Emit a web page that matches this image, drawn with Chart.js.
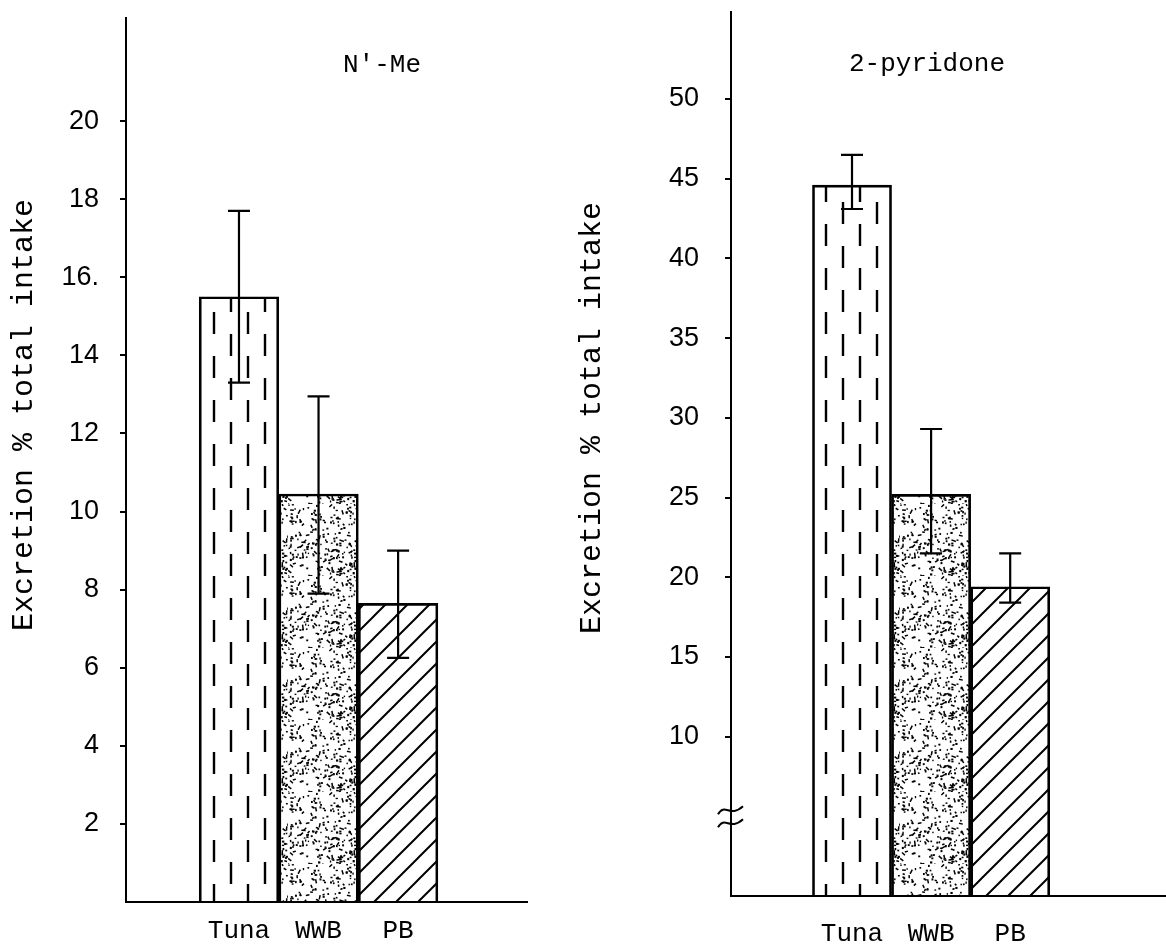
<!DOCTYPE html>
<html>
<head>
<meta charset="utf-8">
<title>Excretion % total intake</title>
<script src="https://cdn.jsdelivr.net/npm/chart.js@4.4.1/dist/chart.umd.min.js"></script>
<style>
  html, body { margin: 0; padding: 0; background: #fff; }
  #wrap { position: relative; width: 1166px; height: 946px; overflow: hidden; }
  canvas { position: absolute; top: 0; }
  #left { left: 0; }
  #right { left: 540px; }
</style>
</head>
<body>
<div id="wrap">
  <canvas id="left" width="540" height="946"></canvas>
  <canvas id="right" width="626" height="946"></canvas>
</div>
<script>
const foods = ['Tuna', 'WWB', 'PB'];
const yTitle = 'Excretion % total intake';

// N'-Me panel
const nmeValues = [15.5, 10.45, 7.65];
const nmeErrHigh = [17.7, 12.95, 9.0];
const nmeErrLow = [13.3, 7.9, 6.25];
const nmeTicks = [2, 4, 6, 8, 10, 12, 14, 16, 18, 20];
const nmeTickLabels = ['2', '4', '6', '8', '10', '12', '14', '16.', '18', '20'];

// 2-pyridone panel
const pyrValues = [44.6, 25.2, 19.4];
const pyrErrHigh = [46.5, 29.3, 21.5];
const pyrErrLow = [43.1, 21.5, 18.4];
const pyrTicks = [10, 15, 20, 25, 30, 35, 40, 45, 50];
const pyrTickLabels = ['10', '15', '20', '25', '30', '35', '40', '45', '50'];

Chart.defaults.color = '#000';
Chart.defaults.font.family = '"Liberation Mono", monospace';

// motivos de preenchimento das barras
function dashPattern(ctx, shift) {
  const c = document.createElement('canvas');
  c.width = 34; c.height = 44;
  const g = c.getContext('2d');
  g.strokeStyle = '#000';
  g.lineWidth = 2.4;
  g.beginPath();
  g.moveTo(shift, 4); g.lineTo(shift, 26);
  g.moveTo(shift + 17, 26); g.lineTo(shift + 17, 44);
  g.moveTo(shift + 17, 0); g.lineTo(shift + 17, 4);
  g.stroke();
  return ctx.createPattern(c, 'repeat');
}

function stipplePattern(ctx) {
  const c = document.createElement('canvas');
  c.width = 72; c.height = 72;
  const g = c.getContext('2d');
  g.fillStyle = '#000';
  g.strokeStyle = '#000';
  g.lineWidth = 1.5;
  let s = 7;
  const rnd = () => (s = (s * 16807) % 2147483647) / 2147483647;
  for (let i = 0; i < 240; i++) {
    const x = rnd() * 72, y = rnd() * 72;
    if (rnd() < 0.3) {
      const a = rnd() * Math.PI, l = 2 + rnd() * 3;
      g.beginPath();
      g.moveTo(x, y);
      g.lineTo(x + Math.cos(a) * l, y + Math.sin(a) * l);
      g.stroke();
    } else {
      g.fillRect(x, y, 1.3 + rnd(), 1.3 + rnd());
    }
  }
  return ctx.createPattern(c, 'repeat');
}

function hatchPattern(ctx) {
  const c = document.createElement('canvas');
  c.width = 22; c.height = 22;
  const g = c.getContext('2d');
  g.strokeStyle = '#000';
  g.lineWidth = 2;
  g.beginPath();
  g.moveTo(-2, 24); g.lineTo(24, -2);
  g.moveTo(-13, 13); g.lineTo(13, -13);
  g.moveTo(9, 35); g.lineTo(35, 9);
  g.stroke();
  return ctx.createPattern(c, 'repeat');
}

// barras de erro
const errorBars = {
  id: 'errorBars',
  afterDatasetsDraw(chart, args, opts) {
    const { ctx, scales: { x, y } } = chart;
    ctx.save();
    ctx.strokeStyle = '#000';
    ctx.lineWidth = 2.2;
    opts.high.forEach((hi, i) => {
      const px = x.getPixelForValue(i + 1);
      const top = y.getPixelForValue(hi);
      const bot = y.getPixelForValue(opts.low[i]);
      ctx.beginPath();
      ctx.moveTo(px, top); ctx.lineTo(px, bot);
      ctx.moveTo(px - 11, top); ctx.lineTo(px + 11, top);
      ctx.moveTo(px - 11, bot); ctx.lineTo(px + 11, bot);
      ctx.stroke();
    });
    ctx.restore();
  }
};

// nome do painel + quebra do eixo
const panelLabel = {
  id: 'panelLabel',
  afterDraw(chart, args, opts) {
    const { ctx } = chart;
    ctx.save();
    ctx.fillStyle = '#000';
    ctx.font = '26px "Liberation Mono", monospace';
    ctx.textAlign = 'left';
    ctx.textBaseline = 'middle';
    ctx.fillText(opts.text, opts.x, opts.y);
    if (opts.breakAt != null) {
      const py = chart.scales.y.getPixelForValue(opts.breakAt);
      const px = chart.chartArea.left;
      ctx.lineWidth = 2;
      [-6, 7].forEach(d => {
        ctx.beginPath();
        ctx.moveTo(px - 13, py + d + 4);
        ctx.bezierCurveTo(px - 6, py + d - 8, px - 1, py + d + 8, px + 12, py + d - 4);
        ctx.stroke();
      });
    }
    ctx.restore();
  }
};

function buildPanel(id, p) {
  const ctx = document.getElementById(id).getContext('2d');
  return new Chart(ctx, {
    type: 'bar',
    data: {
      datasets: [{
        data: p.values.map((v, i) => ({ x: i + 1, y: v })),
        backgroundColor: [dashPattern(ctx, p.dashShift), stipplePattern(ctx), hatchPattern(ctx)],
        borderColor: '#000',
        borderWidth: 2,
        barPercentage: 1,
        categoryPercentage: 1
      }]
    },
    options: {
      responsive: false,
      animation: false,
      events: [],
      layout: { padding: p.padding },
      plugins: {
        legend: { display: false },
        tooltip: { enabled: false },
        errorBars: { high: p.errHigh, low: p.errLow },
        panelLabel: { text: p.label, x: p.labelX, y: p.labelY, breakAt: p.breakAt }
      },
      scales: {
        x: {
          type: 'linear',
          offset: false,
          min: p.xMin,
          max: p.xMax,
          afterBuildTicks: s => { s.ticks = foods.map((f, i) => ({ value: i + 1 })); },
          afterFit: s => { s.height = p.xHeight; s.paddingLeft = 0; s.paddingRight = 0; },
          grid: { display: false, drawTicks: false, offset: false },
          border: { display: true, color: '#000', width: 2 },
          ticks: {
            padding: p.xPad,
            maxRotation: 0,
            autoSkip: false,
            font: { family: '"Liberation Mono", monospace', size: 26 },
            callback: v => foods[v - 1]
          }
        },
        y: {
          min: 0,
          max: p.yMax,
          afterBuildTicks: s => { s.ticks = p.ticks.map(v => ({ value: v })); },
          afterFit: s => { s.width = p.yWidth; s.paddingTop = 0; s.paddingBottom = 0; },
          grid: { drawOnChartArea: false, drawTicks: true, tickLength: 6, color: '#000', lineWidth: 2 },
          border: { display: true, color: '#000', width: 2 },
          ticks: {
            padding: p.yPad,
            font: { family: '"Liberation Sans", sans-serif', size: 27 },
            callback: (v, i) => p.tickLabels[i]
          },
          title: {
            display: true,
            text: p.yTitle,
            padding: { top: p.titlePad, bottom: 0 },
            font: { family: '"Liberation Mono", monospace', size: 30 }
          }
        }
      }
    },
    plugins: [errorBars, panelLabel]
  });
}

buildPanel('left', {
  values: nmeValues, errHigh: nmeErrHigh, errLow: nmeErrLow,
  ticks: nmeTicks, tickLabels: nmeTickLabels,
  label: "N'-Me", labelX: 343, labelY: 65,
  yTitle: '     ' + yTitle, titlePad: 6,
  padding: { top: 18, left: 0, right: 13, bottom: 0 },
  xMin: -0.42, xMax: 4.62, yMax: 22.64,
  xHeight: 44, yWidth: 126, xPad: 14, yPad: 21,
  dashShift: 10
});

buildPanel('right', {
  values: pyrValues, errHigh: pyrErrHigh, errLow: pyrErrLow,
  ticks: pyrTicks, tickLabels: pyrTickLabels,
  label: '2-pyridone', labelX: 309, labelY: 64, breakAt: 5,
  yTitle: '    ' + yTitle, titlePad: 34,
  padding: { top: 12, left: 0, right: 0, bottom: 0 },
  xMin: -0.53, xMax: 4.97, yMax: 55.46,
  xHeight: 50, yWidth: 191, xPad: 23, yPad: 26,
  dashShift: 14
});
</script>
</body>
</html>
